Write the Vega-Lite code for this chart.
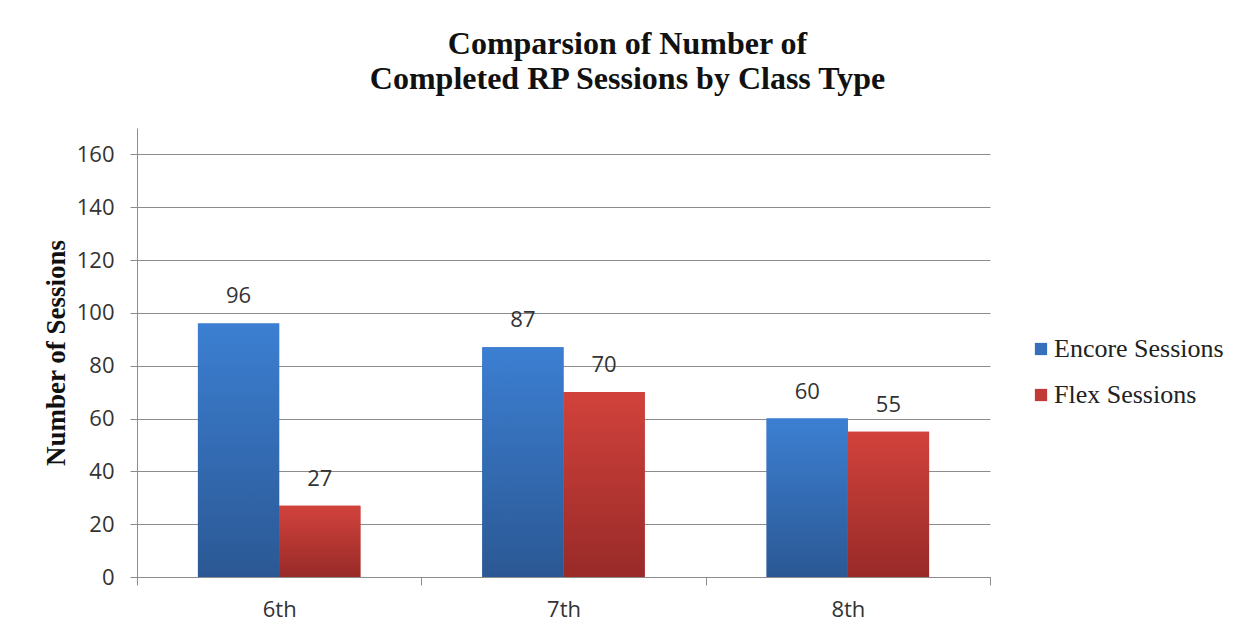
{
  "$schema": "https://vega.github.io/schema/vega-lite/v6.json",
  "width": 853,
  "height": 449,
  "autosize": {"type": "none"},
  "padding": {"left": 137, "top": 128, "right": 264, "bottom": 67},
  "background": "white",
  "title": {
    "text": ["Comparsion of Number of", "Completed  RP Sessions by Class Type"],
    "font": "Liberation Serif",
    "fontSize": 32,
    "fontWeight": "bold",
    "color": "#111111",
    "anchor": "middle",
    "dx": 64,
    "offset": 32,
    "lineHeight": 35
  },
  "data": {
    "values": [
      {"grade": "6th", "series": "Encore Sessions", "value": 96},
      {"grade": "6th", "series": "Flex Sessions", "value": 27},
      {"grade": "7th", "series": "Encore Sessions", "value": 87},
      {"grade": "7th", "series": "Flex Sessions", "value": 70},
      {"grade": "8th", "series": "Encore Sessions", "value": 60},
      {"grade": "8th", "series": "Flex Sessions", "value": 55}
    ]
  },
  "encoding": {
    "x": {
      "field": "grade", "type": "nominal",
      "scale": {"paddingInner": 0, "paddingOuter": 0},
      "axis": {
        "title": null, "labelAngle": 0, "tickBand": "extent",
        "tickSize": 8, "labelPadding": 14,
        "labelFont": "Open Sans", "labelFontSize": 22, "labelColor": "#333333",
        "domainColor": "#8c8c8c", "tickColor": "#8c8c8c", "grid": false
      }
    },
    "xOffset": {
      "field": "series", "type": "nominal",
      "scale": {"domain": ["Encore Sessions", "Flex Sessions"], "paddingOuter": 0.75, "paddingInner": 0}
    },
    "y": {
      "field": "value", "type": "quantitative",
      "scale": {"domain": [0, 170], "nice": false},
      "axis": {
        "title": "Number of Sessions",
        "titleFont": "Liberation Serif", "titleFontSize": 27, "titleFontWeight": "bold",
        "titleColor": "#111111", "titlePadding": 6,
        "values": [0, 20, 40, 60, 80, 100, 120, 140, 160],
        "tickSize": 7, "labelPadding": 16,
        "labelFont": "Open Sans", "labelFontSize": 22, "labelColor": "#333333",
        "domainColor": "#8c8c8c", "tickColor": "#8c8c8c",
        "gridColor": "#8c8c8c", "grid": true
      }
    }
  },
  "layer": [
    {
      "mark": {"type": "bar"},
      "encoding": {
        "color": {
          "field": "series", "type": "nominal",
          "scale": {"domain": ["Encore Sessions", "Flex Sessions"], "range": ["#3670bc", "#c13a36"]},
          "legend": {
            "title": null, "orient": "none", "legendX": 891, "legendY": 208,
            "symbolType": "square", "symbolSize": 150, "symbolStrokeWidth": 0,
            "labelFont": "Liberation Serif", "labelFontSize": 26, "labelColor": "#222222",
            "labelLimit": 400, "rowPadding": 20, "labelOffset": 0
          }
        }
      }
    },
    {
      "transform": [{"filter": "datum.series === 'Encore Sessions'"}],
      "mark": {
        "type": "bar",
        "color": {
          "gradient": "linear", "x1": 0, "y1": 0, "x2": 0, "y2": 1,
          "stops": [{"offset": 0, "color": "#3c7fd2"}, {"offset": 1, "color": "#2b5894"}]
        }
      }
    },
    {
      "transform": [{"filter": "datum.series === 'Flex Sessions'"}],
      "mark": {
        "type": "bar",
        "color": {
          "gradient": "linear", "x1": 0, "y1": 0, "x2": 0, "y2": 1,
          "stops": [{"offset": 0, "color": "#d2423c"}, {"offset": 1, "color": "#982a28"}]
        }
      }
    },
    {
      "mark": {"type": "text", "font": "Open Sans", "fontSize": 22, "color": "#333333", "baseline": "middle", "dy": -27},
      "encoding": {"text": {"field": "value", "type": "quantitative"}}
    }
  ],
  "config": {"view": {"stroke": null}}
}
